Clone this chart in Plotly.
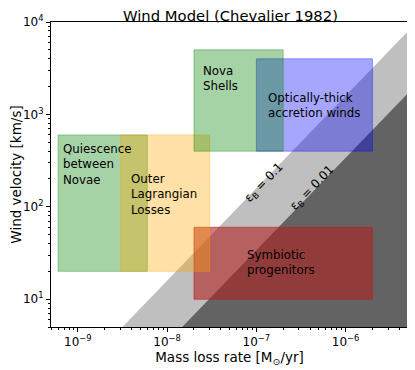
import numpy as np
import plotly.graph_objects as go

# axis limits (data units)
x_lim = [5e-10, 5e-6]
y_lim = [5, 1e4]

# wind regimes: name, x range [Msun/yr], y range [km/s]
regions = ["Symbiotic<br>progenitors", "Optically-thick<br>accretion winds",
           "Quiescence<br>between<br>Novae", "Outer<br>Lagrangian<br>Losses",
           "Nova<br>Shells"]
region_x = [[2e-8, 2e-6], [1e-7, 2e-6], [6e-10, 6e-9], [3e-9, 3e-8], [2e-8, 2e-7]]
region_y = [[10, 60], [400, 4000], [20, 600], [20, 600], [400, 5000]]
region_colors = ["rgba(178,34,34,0.6)", "rgba(0,0,255,0.35)", "rgba(0,128,0,0.35)",
                 "rgba(255,165,0,0.35)", "rgba(0,128,0,0.35)"]
# label anchors (top-left corner of text), data units
label_x = [7.4e-8, 1.27e-7, 6.5e-10, 3.75e-9, 2.4e-8]
label_y = [38, 1900, 525, 250, 3650]

# synchrotron limits v = K * Mdot
eps_labels = ["0.1", "0.01"]
eps_K = [10**9.2, 10**8.53]
eps_fill = ["rgb(191,191,191)", "rgb(99,99,99)"]
eps_text_x = [1.23e-7, 4.3e-7]
eps_text_y = [180, 160]

minor_x = [k * 10.0**e for e in range(-10, -5) for k in range(2, 10)]
minor_y = [k * 10.0**e for e in range(0, 4) for k in range(2, 10)]

fig = go.Figure()

for K, col in zip(eps_K, eps_fill):
    xs = np.logspace(np.log10(x_lim[0]) - 1, np.log10(x_lim[1]), 20)
    ys = K * xs
    xs = np.append(xs, [x_lim[1], xs[0]])
    ys = np.append(ys, [0.1, 0.1])
    fig.add_trace(go.Scatter(x=xs, y=ys, fill="toself", fillcolor=col,
                             mode="lines", line=dict(width=0), hoverinfo="skip"))

for (x0, x1), (y0, y1), col in zip(region_x, region_y, region_colors):
    fig.add_trace(go.Scatter(x=[x0, x1, x1, x0, x0], y=[y0, y0, y1, y1, y0],
                             fill="toself", fillcolor=col, mode="lines",
                             line=dict(width=1, color=col), hoverinfo="skip"))

for txt, lx, ly in zip(regions, label_x, label_y):
    fig.add_annotation(x=np.log10(lx), y=np.log10(ly), text=txt, showarrow=False,
                       xanchor="left", yanchor="top", align="left",
                       font=dict(size=11.8, color="black"))

for lab, tx, ty in zip(eps_labels, eps_text_x, eps_text_y):
    fig.add_annotation(x=np.log10(tx), y=np.log10(ty), text="ε<sub>B</sub> = " + lab,
                       showarrow=False, textangle=-46, font=dict(size=12, color="black"))

xt = [1e-9, 1e-8, 1e-7, 1e-6]
yt = [10, 100, 1000, 10000]
axis_style = dict(ticks="outside", ticklen=4, tickcolor="black", showgrid=False, zeroline=False,
                  showline=True, linecolor="black", linewidth=1, mirror=True, automargin=False,
                  tickfont=dict(size=12))
fig.update_xaxes(type="log", range=[np.log10(v) for v in x_lim],
                 tickvals=xt, ticktext=["10<sup>−9</sup>", "10<sup>−8</sup>", "10<sup>−7</sup>", "10<sup>−6</sup>"],
                 minor=dict(tickvals=minor_x, ticks="outside", ticklen=2, tickcolor="black", showgrid=False),
                 title=dict(text="Mass loss rate [M<sub>⊙</sub>/yr]", font=dict(size=13.5), standoff=3),
                 **axis_style)
fig.update_yaxes(type="log", range=[np.log10(v) for v in y_lim],
                 tickvals=yt, ticktext=["10<sup>1</sup>", "10<sup>2</sup>", "10<sup>3</sup>", "10<sup>4</sup>"],
                 minor=dict(tickvals=minor_y, ticks="outside", ticklen=2, tickcolor="black", showgrid=False),
                 title=dict(text="Wind velocity [km/s]", font=dict(size=13.5), standoff=6),
                 **axis_style)

# page body has an 8px margin, so shift the plot area up/left by 8px
fig.update_layout(
    width=415, height=370,
    margin=dict(l=43, r=15, t=14, b=51),
    paper_bgcolor="white", plot_bgcolor="white",
    showlegend=False,
    font=dict(family="DejaVu Sans", color="black"),
    title=dict(text="Wind Model (Chevalier 1982)", x=0.536, xanchor="center",
               y=0.978, yanchor="middle", automargin=False,
               font=dict(family="DejaVu Sans", size=14.8, color="black")),
)

fig.write_html("out.html")
